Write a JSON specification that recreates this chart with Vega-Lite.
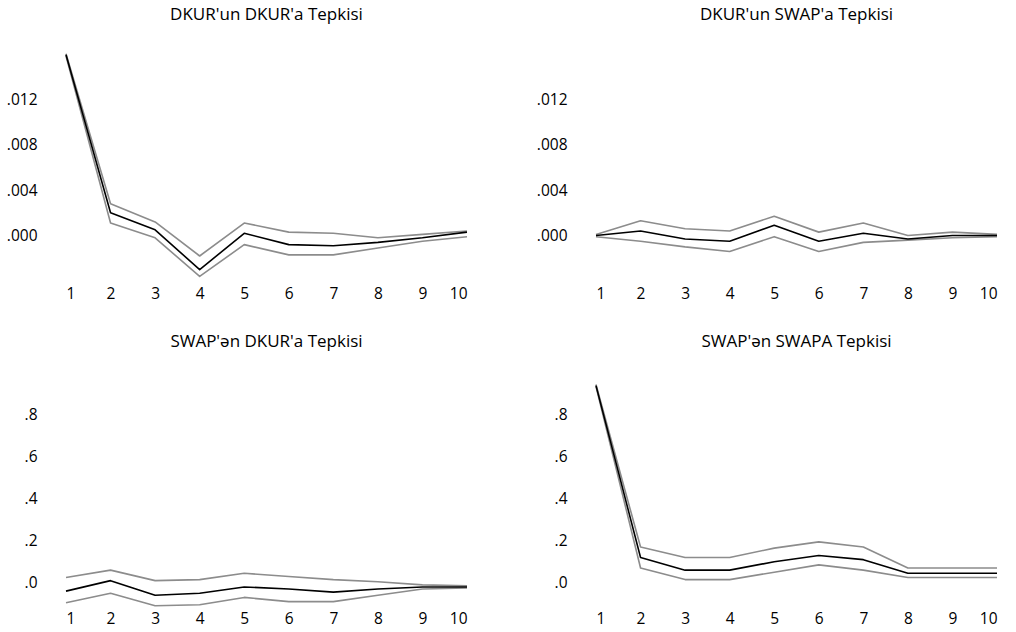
{
  "$schema": "https://vega.github.io/schema/vega-lite/v6.json",
  "padding": {"left": 6, "top": 6, "right": 0, "bottom": 0},
  "background": "white",
  "bounds": "flush",
  "columns": 2,
  "spacing": {"row": 92, "column": 129},
  "config": {
    "view": {"stroke": null},
    "font": "Open Sans",
    "axis": {"domain": false, "ticks": false, "grid": false, "title": null, "labelFont": "Open Sans", "labelFontSize": 15.5, "labelColor": "#000"},
    "title": {"font": "Open Sans", "fontSize": 17, "fontWeight": 400, "color": "#000", "anchor": "middle"}
  },
  "datasets": {
    "p1": [
      {"h": 1, "resp": 0.0159, "lo": 0.0158, "hi": 0.0160},
      {"h": 2, "resp": 0.0020, "lo": 0.0011, "hi": 0.0028},
      {"h": 3, "resp": 0.0005, "lo": -0.0002, "hi": 0.0012},
      {"h": 4, "resp": -0.0030, "lo": -0.0036, "hi": -0.0018},
      {"h": 5, "resp": 0.0002, "lo": -0.0008, "hi": 0.0011},
      {"h": 6, "resp": -0.0008, "lo": -0.0017, "hi": 0.0003},
      {"h": 7, "resp": -0.0009, "lo": -0.0017, "hi": 0.0002},
      {"h": 8, "resp": -0.0006, "lo": -0.0011, "hi": -0.0002},
      {"h": 9, "resp": -0.0002, "lo": -0.0005, "hi": 0.0001},
      {"h": 10, "resp": 0.0003, "lo": -0.0001, "hi": 0.0004}
    ],
    "p2": [
      {"h": 1, "resp": 0.0000, "lo": -0.0001, "hi": 0.0001},
      {"h": 2, "resp": 0.0004, "lo": -0.0005, "hi": 0.0013},
      {"h": 3, "resp": -0.0003, "lo": -0.0010, "hi": 0.0006},
      {"h": 4, "resp": -0.0005, "lo": -0.0014, "hi": 0.0004},
      {"h": 5, "resp": 0.0009, "lo": -0.0001, "hi": 0.0017},
      {"h": 6, "resp": -0.0005, "lo": -0.0014, "hi": 0.0003},
      {"h": 7, "resp": 0.0002, "lo": -0.0006, "hi": 0.0011},
      {"h": 8, "resp": -0.0003, "lo": -0.0004, "hi": 0.0000},
      {"h": 9, "resp": 0.0000, "lo": -0.0002, "hi": 0.0003},
      {"h": 10, "resp": 0.0000, "lo": -0.0001, "hi": 0.0001}
    ],
    "p3": [
      {"h": 1, "resp": -0.04, "lo": -0.095, "hi": 0.025},
      {"h": 2, "resp": 0.01, "lo": -0.05, "hi": 0.06},
      {"h": 3, "resp": -0.06, "lo": -0.11, "hi": 0.01},
      {"h": 4, "resp": -0.05, "lo": -0.105, "hi": 0.015},
      {"h": 5, "resp": -0.02, "lo": -0.07, "hi": 0.045},
      {"h": 6, "resp": -0.03, "lo": -0.09, "hi": 0.03},
      {"h": 7, "resp": -0.045, "lo": -0.09, "hi": 0.015},
      {"h": 8, "resp": -0.03, "lo": -0.06, "hi": 0.005},
      {"h": 9, "resp": -0.02, "lo": -0.03, "hi": -0.01},
      {"h": 10, "resp": -0.02, "lo": -0.025, "hi": -0.015}
    ],
    "p4": [
      {"h": 1, "resp": 0.94, "lo": 0.935, "hi": 0.945},
      {"h": 2, "resp": 0.12, "lo": 0.07, "hi": 0.17},
      {"h": 3, "resp": 0.06, "lo": 0.015, "hi": 0.12},
      {"h": 4, "resp": 0.06, "lo": 0.015, "hi": 0.12},
      {"h": 5, "resp": 0.10, "lo": 0.05, "hi": 0.165},
      {"h": 6, "resp": 0.13, "lo": 0.085, "hi": 0.195},
      {"h": 7, "resp": 0.11, "lo": 0.06, "hi": 0.17},
      {"h": 8, "resp": 0.045, "lo": 0.025, "hi": 0.07},
      {"h": 9, "resp": 0.045, "lo": 0.025, "hi": 0.07},
      {"h": 10, "resp": 0.045, "lo": 0.025, "hi": 0.07}
    ]
  },
  "concat": [
    {
      "title": {"text": "DKUR'un DKUR'a Tepkisi", "offset": 24, "fontWeight": 400},
      "width": 401, "height": 233,
      "data": {"name": "p1"},
      "transform": [{"fold": ["lo", "hi", "resp"], "as": ["key", "value"]}],
      "mark": {"type": "line", "strokeJoin": "round"},
      "encoding": {
        "x": {"field": "h", "type": "quantitative", "scale": {"domain": [1, 10]}, "axis": {"values": [1,2,3,4,5,6,7,8,9,10], "labelPadding": 5}},
        "y": {"field": "value", "type": "quantitative", "scale": {"domain": [-0.004, 0.0165], "nice": false, "zero": false}, "axis": {"values": [0, 0.004, 0.008, 0.012], "labelPadding": 29, "labelExpr": "replace(format(datum.value, '.3f'), '0.', '.')"}},
        "detail": {"field": "key"},
        "color": {"field": "key", "scale": {"domain": ["lo", "hi", "resp"], "range": ["#8c8c8c", "#8c8c8c", "#000000"]}, "legend": null},
        "strokeWidth": {"field": "key", "scale": {"domain": ["lo", "hi", "resp"], "range": [1.6, 1.6, 2.2]}, "legend": null}
      }
    },
    {
      "title": {"text": "DKUR'un SWAP'a Tepkisi", "offset": 24, "fontWeight": 400},
      "width": 401, "height": 233,
      "data": {"name": "p2"},
      "transform": [{"fold": ["lo", "hi", "resp"], "as": ["key", "value"]}],
      "mark": {"type": "line", "strokeJoin": "round"},
      "encoding": {
        "x": {"field": "h", "type": "quantitative", "scale": {"domain": [1, 10]}, "axis": {"values": [1,2,3,4,5,6,7,8,9,10], "labelPadding": 5}},
        "y": {"field": "value", "type": "quantitative", "scale": {"domain": [-0.004, 0.0165], "nice": false, "zero": false}, "axis": {"values": [0, 0.004, 0.008, 0.012], "labelPadding": 29, "labelExpr": "replace(format(datum.value, '.3f'), '0.', '.')"}},
        "detail": {"field": "key"},
        "color": {"field": "key", "scale": {"domain": ["lo", "hi", "resp"], "range": ["#8c8c8c", "#8c8c8c", "#000000"]}, "legend": null},
        "strokeWidth": {"field": "key", "scale": {"domain": ["lo", "hi", "resp"], "range": [1.6, 1.6, 2.2]}, "legend": null}
      }
    },
    {
      "title": {"text": "SWAP'ən DKUR'a Tepkisi", "offset": 22, "fontWeight": 400},
      "width": 401, "height": 237,
      "data": {"name": "p3"},
      "transform": [{"fold": ["lo", "hi", "resp"], "as": ["key", "value"]}],
      "mark": {"type": "line", "strokeJoin": "round"},
      "encoding": {
        "x": {"field": "h", "type": "quantitative", "scale": {"domain": [1, 10]}, "axis": {"values": [1,2,3,4,5,6,7,8,9,10], "labelPadding": 1}},
        "y": {"field": "value", "type": "quantitative", "scale": {"domain": [-0.13, 1.0], "nice": false, "zero": false}, "axis": {"values": [0, 0.2, 0.4, 0.6, 0.8], "labelPadding": 29, "labelExpr": "replace(format(datum.value, '.1f'), '0.', '.')"}},
        "detail": {"field": "key"},
        "color": {"field": "key", "scale": {"domain": ["lo", "hi", "resp"], "range": ["#8c8c8c", "#8c8c8c", "#000000"]}, "legend": null},
        "strokeWidth": {"field": "key", "scale": {"domain": ["lo", "hi", "resp"], "range": [1.6, 1.6, 2.2]}, "legend": null}
      }
    },
    {
      "title": {"text": "SWAP'ən SWAPA Tepkisi", "offset": 22, "fontWeight": 400},
      "width": 401, "height": 237,
      "data": {"name": "p4"},
      "transform": [{"fold": ["lo", "hi", "resp"], "as": ["key", "value"]}],
      "mark": {"type": "line", "strokeJoin": "round"},
      "encoding": {
        "x": {"field": "h", "type": "quantitative", "scale": {"domain": [1, 10]}, "axis": {"values": [1,2,3,4,5,6,7,8,9,10], "labelPadding": 1}},
        "y": {"field": "value", "type": "quantitative", "scale": {"domain": [-0.13, 1.0], "nice": false, "zero": false}, "axis": {"values": [0, 0.2, 0.4, 0.6, 0.8], "labelPadding": 29, "labelExpr": "replace(format(datum.value, '.1f'), '0.', '.')"}},
        "detail": {"field": "key"},
        "color": {"field": "key", "scale": {"domain": ["lo", "hi", "resp"], "range": ["#8c8c8c", "#8c8c8c", "#000000"]}, "legend": null},
        "strokeWidth": {"field": "key", "scale": {"domain": ["lo", "hi", "resp"], "range": [1.6, 1.6, 2.2]}, "legend": null}
      }
    }
  ]
}
